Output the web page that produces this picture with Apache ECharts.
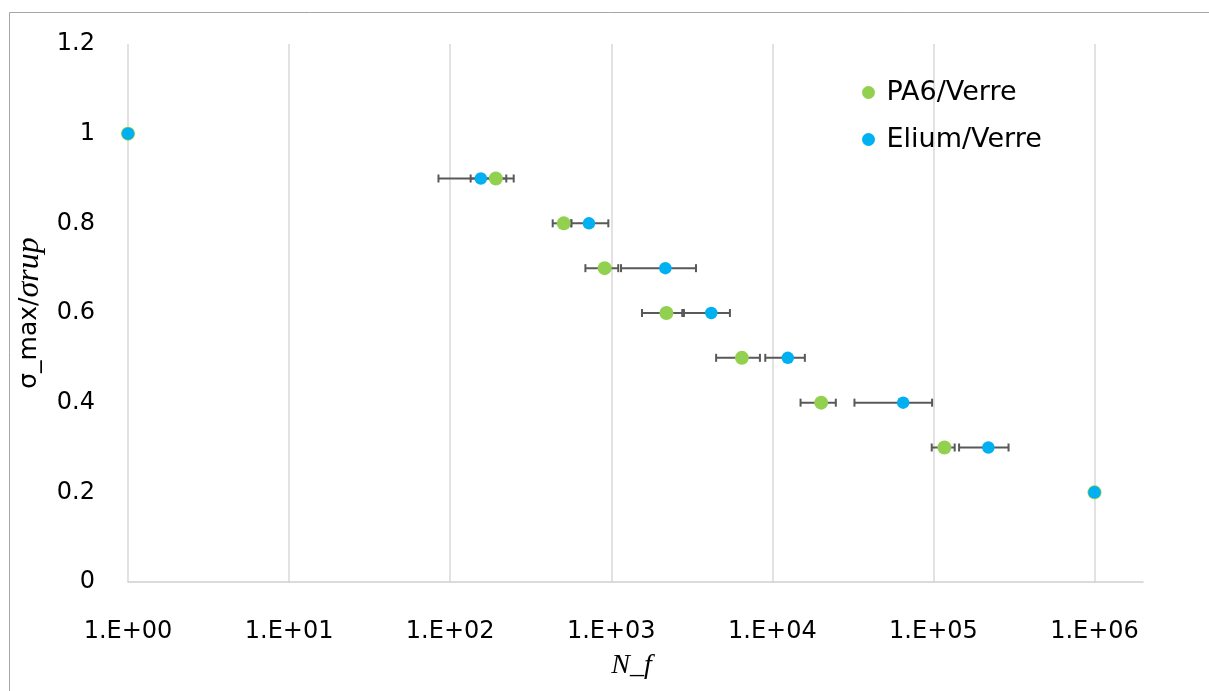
<!DOCTYPE html>
<html>
<head>
<meta charset="utf-8">
<title>PA6/Verre vs Elium/Verre</title>
<script src="https://cdn.jsdelivr.net/npm/echarts@6/dist/echarts.min.js"></script>
<style>
  html, body { margin: 0; padding: 0; background: #fff; }
  #chart { width: 1209px; height: 691px; }
</style>
</head>
<body>
<div id="chart"></div>
<script>
// stress ratio levels (y)
const stressLevels = [1, 0.9, 0.8, 0.7, 0.6, 0.5, 0.4, 0.3, 0.2];

// PA6/Verre : cycles to failure, with low / high ends of the error bar
const pa6Cycles = [1, 192, 507, 910, 2200, 6470, 20100, 117000, 1000000];
const pa6Low    = [1, 134, 433, 691, 1552, 4477, 14970, 97600, 1000000];
const pa6High   = [1, 248, 565, 1105, 2826, 8375, 24780, 135500, 1000000];

// Elium/Verre
const eliumCycles = [1, 155, 727, 2167, 4178, 12470, 64860, 219300, 1000000];
const eliumLow    = [1, 84.6, 565, 1150, 2760, 9040, 32340, 144300, 1000000];
const eliumHigh   = [1, 223, 959, 3357, 5453, 15920, 98100, 292600, 1000000];

const GREEN = '#92D050';
const BLUE = '#00B0F0';
const ERR = '#595959';
const FONT = 'DejaVu Sans';

const points = (xs) => xs.map((x, i) => [x, stressLevels[i]]);
const bars = (lo, hi) => lo.map((l, i) => [l, hi[i], stressLevels[i]]);

function renderErrorBar(params, api) {
  const lo = api.value(0), hi = api.value(1), y = api.value(2);
  if (lo === hi) return null;
  const a = api.coord([lo, y]);
  const b = api.coord([hi, y]);
  const h = 4;
  const style = { stroke: ERR, lineWidth: 2 };
  return {
    type: 'group',
    children: [
      { type: 'line', shape: { x1: a[0], y1: a[1], x2: b[0], y2: b[1] }, style },
      { type: 'line', shape: { x1: a[0], y1: a[1] - h, x2: a[0], y2: a[1] + h }, style },
      { type: 'line', shape: { x1: b[0], y1: b[1] - h, x2: b[0], y2: b[1] + h }, style }
    ]
  };
}

function isPow10(v) {
  const l = Math.log10(v);
  return Math.abs(l - Math.round(l)) < 1e-6;
}

const chart = echarts.init(document.getElementById('chart'));

const option = {
  animation: false,
  graphic: [{
    type: 'polyline',
    shape: { points: [[9.5, 700], [9.5, 12.5], [1215, 12.5]] },
    style: { stroke: '#a6a6a6', lineWidth: 1, fill: null },
    silent: true
  }],
  grid: { left: 128, right: 66, top: 44, bottom: 109 },
  legend: {
    orient: 'vertical',
    left: 857,
    top: 72,
    itemWidth: 26,
    itemHeight: 13,
    itemGap: 16,
    icon: 'circle',
    data: ['PA6/Verre', 'Elium/Verre'],
    textStyle: { fontFamily: FONT, fontSize: 27, color: '#000', lineHeight: 31 }
  },
  xAxis: {
    type: 'log',
    logBase: 10,
    min: 1,
    max: 2000000,
    splitNumber: 6,
    name: 'N_f',
    nameLocation: 'middle',
    nameGap: 70,
    nameTextStyle: { fontFamily: 'Liberation Serif', fontStyle: 'italic', fontSize: 28, color: '#000', padding: [0, 8, 0, 0] },
    axisLine: { show: true, lineStyle: { color: '#d0d0d0', width: 1.5 } },
    axisTick: { show: false },
    axisLabel: {
      margin: 38,
      fontFamily: FONT,
      fontSize: 24,
      color: '#000',
      showMaxLabel: false,
      formatter: (v) => {
        if (!isPow10(v)) return '';
        const e = Math.round(Math.log10(v));
        return '1.E+' + (e < 10 ? '0' + e : e);
      }
    },
    splitLine: {
      show: true,
      showMinLine: true,
      showMaxLine: false,
      lineStyle: { color: '#d9d9d9', width: 1.5 }
    }
  },
  yAxis: {
    type: 'value',
    min: 0,
    max: 1.2,
    interval: 0.2,
    name: '{a|σ_max/}{b|σrup}',
    nameLocation: 'middle',
    nameGap: 80,
    nameTextStyle: {
      rich: {
        a: { fontFamily: FONT, fontSize: 25, color: '#000' },
        b: { fontFamily: 'Liberation Serif', fontStyle: 'italic', fontSize: 32, color: '#000' }
      }
    },
    axisLine: { show: false },
    axisTick: { show: false },
    splitLine: { show: false },
    axisLabel: {
      margin: 33,
      fontFamily: FONT,
      fontSize: 24,
      color: '#000',
      formatter: (v) => String(Math.round(v * 10) / 10)
    }
  },
  series: [
    {
      name: 'PA6 err',
      type: 'custom',
      renderItem: renderErrorBar,
      encode: { x: [0, 1], y: 2 },
      data: bars(pa6Low, pa6High),
      z: 1,
      silent: true
    },
    {
      name: 'Elium err',
      type: 'custom',
      renderItem: renderErrorBar,
      encode: { x: [0, 1], y: 2 },
      data: bars(eliumLow, eliumHigh),
      z: 1,
      silent: true
    },
    {
      name: 'PA6/Verre',
      type: 'scatter',
      symbol: 'circle',
      symbolSize: 14,
      itemStyle: { color: GREEN, opacity: 1 },
      data: points(pa6Cycles),
      z: 3
    },
    {
      name: 'Elium/Verre',
      type: 'scatter',
      symbol: 'circle',
      symbolSize: 12.5,
      itemStyle: { color: BLUE, opacity: 1 },
      data: points(eliumCycles),
      z: 4
    }
  ]
};

chart.setOption(option);
</script>
</body>
</html>
